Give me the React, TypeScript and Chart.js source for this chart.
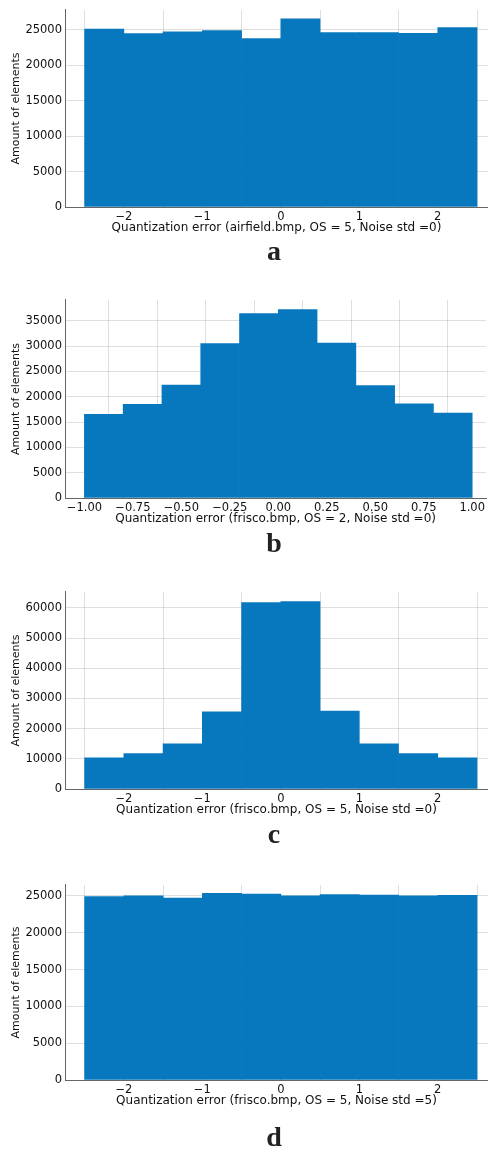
import React, { useEffect, useRef } from "react";
import { Chart, registerables } from "chart.js";

Chart.register(...registerables);
Chart.defaults.font.family = "'DejaVu Sans', sans-serif";

// ---- data ----
const binCentersWide = [-2.25, -1.75, -1.25, -0.75, -0.25, 0.25, 0.75, 1.25, 1.75, 2.25];
const binCentersNarrow = [-0.9, -0.7, -0.5, -0.3, -0.1, 0.1, 0.3, 0.5, 0.7, 0.9];

const countsA = [25100, 24450, 24700, 24900, 23750, 26550, 24600, 24600, 24500, 25300];
const countsB = [16500, 18500, 22300, 30500, 36400, 37200, 30600, 22200, 18600, 16750];
const countsC = [10300, 11700, 15000, 25600, 61800, 62100, 25800, 15000, 11700, 10300];
const countsD = [24900, 25000, 24700, 25350, 25270, 25000, 25180, 25130, 25000, 25090];

const xTicksWide = [-2, -1, 0, 1, 2];
const xTicksNarrow = [-1, -0.75, -0.5, -0.25, 0, 0.25, 0.5, 0.75, 1];

const yTicksA = [0, 5000, 10000, 15000, 20000, 25000];
const yTicksB = [0, 5000, 10000, 15000, 20000, 25000, 30000, 35000];
const yTicksC = [0, 10000, 20000, 30000, 40000, 50000, 60000];
const yTicksD = [0, 5000, 10000, 15000, 20000, 25000];

const xLabelA = "Quantization error (airfield.bmp, OS = 5, Noise std =0)";
const xLabelB = "Quantization error (frisco.bmp, OS = 2, Noise std =0)";
const xLabelC = "Quantization error (frisco.bmp, OS = 5, Noise std =0)";
const xLabelD = "Quantization error (frisco.bmp, OS = 5, Noise std =5)";
const yLabel = "Amount of elements";

const BAR_COLOR = "#0878be";
const GRID_COLOR = "rgba(185,185,185,0.45)";
const AXIS_COLOR = "#666";
const TEXT_COLOR = "#111";

type HistProps = {
  centers: number[];
  counts: number[];
  xTicks: number[];
  yTicks: number[];
  xMin: number;
  xMax: number;
  yMax: number;
  xLabel: string;
  decimals: number;
  top: number;
  plotHeight: number;
};

const fmt = (v: number, d: number) => {
  const s = Math.abs(v).toFixed(d);
  return v < 0 ? "\u2212" + s : s;
};

function Histogram(p: HistProps) {
  const ref = useRef<HTMLCanvasElement | null>(null);
  const PAD_TOP = 7;
  const X_AXIS_H = 30;
  const height = PAD_TOP + p.plotHeight + X_AXIS_H;

  useEffect(() => {
    if (!ref.current) return;
    const chart = new Chart(ref.current, {
      type: "bar",
      data: {
        datasets: [
          {
            data: p.centers.map((c, i) => ({ x: c, y: p.counts[i] })),
            backgroundColor: BAR_COLOR,
            borderWidth: 0,
            barPercentage: 1,
            categoryPercentage: 1,
          },
        ],
      },
      options: {
        responsive: false,
        animation: false,
        devicePixelRatio: 1,
        layout: { padding: { top: PAD_TOP, left: 0, right: 0, bottom: 0 } },
        plugins: { legend: { display: false }, tooltip: { enabled: false } },
        scales: {
          x: {
            type: "linear",
            min: p.xMin,
            max: p.xMax,
            offset: false,
            z: 1,
            afterBuildTicks: (s: any) => {
              s.ticks = p.xTicks.map((value) => ({ value }));
            },
            afterFit: (s: any) => {
              s.height = X_AXIS_H;
            },
            grid: { color: GRID_COLOR, drawTicks: false, lineWidth: 1 },
            border: { color: AXIS_COLOR, width: 1 },
            ticks: {
              padding: 3,
              color: TEXT_COLOR,
              font: { size: 11.5 },
              maxRotation: 0,
              autoSkip: false,
              callback: (v: any) => fmt(Number(v), p.decimals),
            },
            title: {
              display: true,
              text: p.xLabel,
              color: TEXT_COLOR,
              font: { size: 12 },
              padding: { top: 0, bottom: 2 },
            },
          },
          y: {
            type: "linear",
            min: 0,
            max: p.yMax,
            z: 1,
            afterBuildTicks: (s: any) => {
              s.ticks = p.yTicks.map((value) => ({ value }));
            },
            afterFit: (s: any) => {
              s.width = 65;
            },
            grid: { color: GRID_COLOR, drawTicks: false, lineWidth: 1 },
            border: { color: AXIS_COLOR, width: 1 },
            ticks: {
              padding: 3,
              color: TEXT_COLOR,
              font: { size: 11.5 },
              callback: (v: any) => String(v),
            },
            title: {
              display: true,
              text: yLabel,
              color: TEXT_COLOR,
              font: { size: 11 },
              padding: { top: 10, bottom: 0 },
            },
          },
        },
      },
    } as any);
    return () => chart.destroy();
  }, []);

  return (
    <canvas
      ref={ref}
      width={488}
      height={height}
      style={{ position: "absolute", left: 0, top: p.top - PAD_TOP, width: 488, height }}
    />
  );
}

function Caption({ text, baseline }: { text: string; baseline: number }) {
  return (
    <div
      style={{
        position: "absolute",
        left: 274,
        top: baseline - 23.4,
        transform: "translateX(-50%)",
        fontFamily: "'Liberation Serif', serif",
        fontWeight: "bold",
        fontSize: 28,
        lineHeight: "28px",
        color: "#222",
      }}
    >
      {text}
    </div>
  );
}

export default function App() {
  return (
    <div
      style={{
        position: "absolute",
        left: 0,
        top: 0,
        width: 488,
        height: 1150,
        overflow: "hidden",
        background: "#fff",
      }}
    >
      <Histogram centers={binCentersWide} counts={countsA} xTicks={xTicksWide} yTicks={yTicksA}
        xMin={-2.75} xMax={2.64} yMax={27800} xLabel={xLabelA} decimals={0} top={7} plotHeight={200} />
      <Caption text="a" baseline={260} />
      <Histogram centers={binCentersNarrow} counts={countsB} xTicks={xTicksNarrow} yTicks={yTicksB}
        xMin={-1.1} xMax={1.072} yMax={39100} xLabel={xLabelB} decimals={2} top={297} plotHeight={201} />
      <Caption text="b" baseline={552} />
      <Histogram centers={binCentersWide} counts={countsC} xTicks={xTicksWide} yTicks={yTicksC}
        xMin={-2.75} xMax={2.64} yMax={65300} xLabel={xLabelC} decimals={0} top={589} plotHeight={200} />
      <Caption text="c" baseline={843} />
      <Histogram centers={binCentersWide} counts={countsD} xTicks={xTicksWide} yTicks={yTicksD}
        xMin={-2.75} xMax={2.64} yMax={26500} xLabel={xLabelD} decimals={0} top={882} plotHeight={198} />
      <Caption text="d" baseline={1146} />
    </div>
  );
}
